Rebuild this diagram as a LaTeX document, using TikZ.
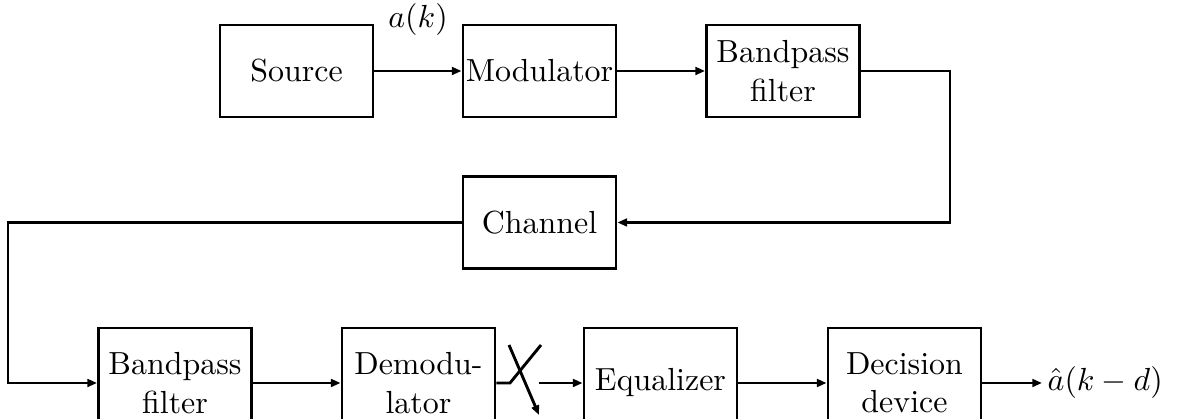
\documentclass[tikz,border=0pt]{standalone}
\usetikzlibrary{arrows.meta}

\tikzset{blk/.style={draw,line width=0.9pt,minimum width=1.683cm,minimum height=1.012cm,inner sep=0pt,align=center},
  sig/.style={line width=0.9pt,-{Triangle[length=3pt,width=2.4pt]}},
  wire/.style={line width=0.9pt}}

\begin{document}
\begin{tikzpicture}[x=0.011cm,y=-0.011cm]
\useasboundingbox (0,0) rectangle (1178,419);
\node[blk] (src) at (296.5,71){Source};
\node[blk] (mod) at (539.5,71){Modulator};
\node[blk] (bpfa) at (783,71){Bandpass\\filter};
\node[blk] (chan) at (539.5,222.5){Channel};
\node[blk,minimum height=1.21cm] (bpfb) at (175,383){Bandpass\\filter};
\node[blk,minimum height=1.21cm] (demod) at (418.5,383){Demodu-\\lator};
\node[blk,minimum height=1.21cm] (eq) at (660.5,383){Equalizer};
\node[blk,minimum height=1.21cm] (dec) at (904.5,383){Decision\\device};

\node at (418,20){$a(k)$};
\node[anchor=west,inner sep=0pt] (out) at (1047,383){$\hat{a}(k-d)$};

\coordinate (ra) at (950,71);
\coordinate (rb) at (950,222.5);
\coordinate (la) at (8,222.5);
\coordinate (lb) at (8,383);
\coordinate (swa) at (510,383);
\coordinate (swb) at (541,345);
\coordinate (swc) at (509,345);
\coordinate (swd) at (539,415);
\coordinate (swe) at (539,383);
\coordinate (oe) at (1042,383);

\draw[sig] (src) -- (mod);
\draw[sig] (mod) -- (bpfa);
\draw[sig] (bpfa.east) -- (ra) -- (rb) -- (chan.east);
\draw[sig] (chan.west) -- (la) -- (lb) -- (bpfb.west);
\draw[sig] (bpfb) -- (demod);
\draw[wire] (demod.east) -- (swa) -- (swb);
\draw[sig] (swc) -- (swd);
\draw[sig] (swe) -- (eq.west);
\draw[sig] (eq) -- (dec);
\draw[sig] (dec.east) -- (oe);
\end{tikzpicture}
\end{document}
